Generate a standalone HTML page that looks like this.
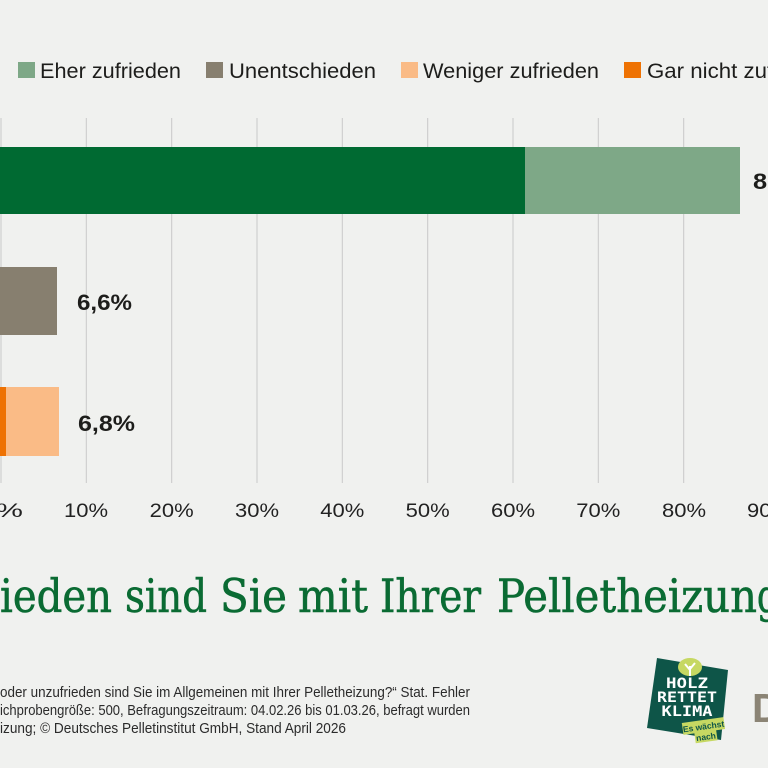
<!DOCTYPE html>
<html>
<head>
<meta charset="utf-8">
<style>
  html, body { margin:0; padding:0; background:#f0f1ef; }
  body { width:768px; height:768px; overflow:hidden; }
  svg { display:block; }
</style>
</head>
<body>
<svg width="768" height="768" viewBox="0 0 768 768" xmlns="http://www.w3.org/2000/svg">
  <rect x="0" y="0" width="768" height="768" fill="#f0f1ef"/>

  <!-- Legend -->
  <g font-family="'Liberation Sans', sans-serif" font-size="21.5" fill="#1d1d1b">
    <rect x="18" y="62" width="17" height="16" fill="#7ea887"/>
    <text x="40" y="78" textLength="141" lengthAdjust="spacingAndGlyphs">Eher zufrieden</text>
    <rect x="206" y="62" width="17" height="16" fill="#877f6f"/>
    <text x="229" y="78" textLength="147" lengthAdjust="spacingAndGlyphs">Unentschieden</text>
    <rect x="401" y="62" width="17" height="16" fill="#fabb86"/>
    <text x="423" y="78" textLength="176" lengthAdjust="spacingAndGlyphs">Weniger zufrieden</text>
    <rect x="624" y="62" width="17" height="16" fill="#ee7203"/>
    <text x="647" y="78" textLength="188" lengthAdjust="spacingAndGlyphs">Gar nicht zufrieden</text>
  </g>

  <!-- Gridlines -->
  <g stroke="#c9c9c9" stroke-width="1">
    <line x1="1" y1="118" x2="1" y2="483"/>
    <line x1="86.3" y1="118" x2="86.3" y2="483"/>
    <line x1="171.7" y1="118" x2="171.7" y2="483"/>
    <line x1="257" y1="118" x2="257" y2="483"/>
    <line x1="342.3" y1="118" x2="342.3" y2="483"/>
    <line x1="427.7" y1="118" x2="427.7" y2="483"/>
    <line x1="513" y1="118" x2="513" y2="483"/>
    <line x1="598.3" y1="118" x2="598.3" y2="483"/>
    <line x1="683.7" y1="118" x2="683.7" y2="483"/>
  </g>

  <!-- Bars -->
  <rect x="0" y="147" width="525" height="67" fill="#006a32"/>
  <rect x="525" y="147" width="215" height="67" fill="#7ea887"/>
  <rect x="0" y="267" width="57" height="68" fill="#877f6f"/>
  <rect x="0" y="387" width="6" height="69" fill="#ee7203"/>
  <rect x="6" y="387" width="53" height="69" fill="#fabb86"/>

  <!-- Value labels -->
  <g font-family="'Liberation Sans', sans-serif" font-size="22" font-weight="bold" fill="#1d1d1b">
    <text x="753" y="189" textLength="72" lengthAdjust="spacingAndGlyphs">86,7%</text>
    <text x="77" y="310" textLength="55" lengthAdjust="spacingAndGlyphs">6,6%</text>
    <text x="78" y="431" textLength="57" lengthAdjust="spacingAndGlyphs">6,8%</text>
  </g>

  <!-- Tick labels -->
  <g font-family="'Liberation Sans', sans-serif" font-size="19" fill="#222222" text-anchor="middle">
    <text x="1" y="517" textLength="44" lengthAdjust="spacingAndGlyphs">0%</text>
    <text x="86" y="517" textLength="44" lengthAdjust="spacingAndGlyphs">10%</text>
    <text x="171.7" y="517" textLength="44" lengthAdjust="spacingAndGlyphs">20%</text>
    <text x="257" y="517" textLength="44" lengthAdjust="spacingAndGlyphs">30%</text>
    <text x="342.3" y="517" textLength="44" lengthAdjust="spacingAndGlyphs">40%</text>
    <text x="427.7" y="517" textLength="44" lengthAdjust="spacingAndGlyphs">50%</text>
    <text x="513" y="517" textLength="44" lengthAdjust="spacingAndGlyphs">60%</text>
    <text x="598.3" y="517" textLength="44" lengthAdjust="spacingAndGlyphs">70%</text>
    <text x="684" y="517" textLength="44" lengthAdjust="spacingAndGlyphs">80%</text>
    <text x="769" y="517" textLength="44" lengthAdjust="spacingAndGlyphs">90%</text>
  </g>

  <!-- Title -->
  <g font-family="'DejaVu Serif', 'Liberation Serif', serif" font-size="46" fill="#0a6b33" stroke="#0a6b33" stroke-width="0.6">
    <text x="0" y="612" textLength="112" lengthAdjust="spacingAndGlyphs">ieden</text>
    <text x="125" y="612" textLength="82" lengthAdjust="spacingAndGlyphs">sind</text>
    <text x="220" y="612" textLength="67" lengthAdjust="spacingAndGlyphs">Sie</text>
    <text x="298" y="612" textLength="70" lengthAdjust="spacingAndGlyphs">mit</text>
    <text x="380" y="612" textLength="101" lengthAdjust="spacingAndGlyphs">Ihrer</text>
    <text x="497" y="612" textLength="260" lengthAdjust="spacingAndGlyphs">Pelletheizun</text>
    <text x="757" y="612" textLength="40" lengthAdjust="spacingAndGlyphs">g?</text>
  </g>

  <!-- Footnote -->
  <g font-family="'Liberation Sans', sans-serif" font-size="15" fill="#2b2b2b">
    <text x="0" y="697" textLength="470" lengthAdjust="spacingAndGlyphs">oder unzufrieden sind Sie im Allgemeinen mit Ihrer Pelletheizung?“ Stat. Fehler</text>
    <text x="0" y="715" textLength="470" lengthAdjust="spacingAndGlyphs">ichprobengröße: 500, Befragungszeitraum: 04.02.26 bis 01.03.26, befragt wurden</text>
    <text x="0" y="733" textLength="346" lengthAdjust="spacingAndGlyphs">izung; © Deutsches Pelletinstitut GmbH, Stand April 2026</text>
  </g>

  <!-- Logo: Holz rettet Klima -->
  <polygon points="657,658 728,670 721,740 647,728" fill="#0e5548"/>
  <ellipse cx="690" cy="667" rx="12" ry="9" fill="#c6d862"/>
  <path d="M690,676 L690,666 M690,670 L685,664 M690,669 L695,663" stroke="#ffffff" stroke-width="2" fill="none"/>
  <g font-family="'DejaVu Sans Mono', 'Liberation Mono', monospace" font-weight="bold" font-size="14" fill="#ffffff" text-anchor="middle">
    <text x="687" y="688" textLength="42" lengthAdjust="spacingAndGlyphs">HOLZ</text>
    <text x="687" y="702" textLength="60" lengthAdjust="spacingAndGlyphs">RETTET</text>
    <text x="687" y="716" textLength="51" lengthAdjust="spacingAndGlyphs">KLIMA</text>
  </g>
  <g transform="rotate(-8 704 730)">
    <rect x="683" y="720" width="42" height="12" fill="#c6d862"/>
    <rect x="694" y="731" width="22" height="11" fill="#c6d862"/>
    <text x="704" y="729.5" font-family="'Liberation Sans', sans-serif" font-size="8.5" font-weight="bold" fill="#0e5548" text-anchor="middle">Es wächst</text>
    <text x="705" y="740" font-family="'Liberation Sans', sans-serif" font-size="8.5" font-weight="bold" fill="#0e5548" text-anchor="middle">nach</text>
  </g>

  <!-- Partial D logo -->
  <text x="752" y="722" font-family="'Liberation Sans', sans-serif" font-size="41" font-weight="bold" fill="#8b8475">D</text>
</svg>
</body>
</html>
